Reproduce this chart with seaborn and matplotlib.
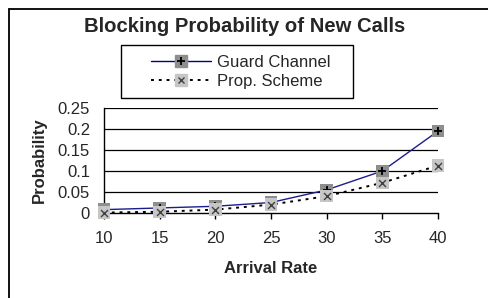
import matplotlib
matplotlib.use("Agg")
import matplotlib.pyplot as plt
from matplotlib.lines import Line2D
from matplotlib.patches import Rectangle
from matplotlib.legend_handler import HandlerTuple
import seaborn as sns
import pandas as pd

arrival_rate = [10, 15, 20, 25, 30, 35, 40]
guard_channel = [0.008, 0.012, 0.016, 0.025, 0.055, 0.100, 0.195]
prop_scheme = [0.001, 0.003, 0.008, 0.020, 0.040, 0.072, 0.113]
y_ticks = [0, 0.05, 0.1, 0.15, 0.2, 0.25]
y_tick_labels = ["0", "0.05", "0.1", "0.15", "0.2", "0.25"]

df = pd.DataFrame({"Arrival Rate": arrival_rate,
                   "Guard Channel": guard_channel,
                   "Prop. Scheme": prop_scheme})

sns.set_style("white")
plt.rcParams['font.family'] = ['Liberation Sans', 'DejaVu Sans']

W, H = 488, 298
fig = plt.figure(figsize=(W / 100, H / 100), dpi=100)
ax = fig.add_axes([104 / W, 1 - 213 / H, 334 / W, 105 / H])

guard_col = '#1c1c8c'
dots = (0, (1.5, 2.5))

# outer chart frame (runs off the right and bottom edges)
fig.add_artist(Line2D([8.5 / W, 1.0], [1 - 8.5 / H, 1 - 8.5 / H],
                      transform=fig.transFigure, color='black', lw=1.3))
fig.add_artist(Line2D([8.5 / W, 8.5 / W], [1 - 8.5 / H, 0.0],
                      transform=fig.transFigure, color='black', lw=1.3))

for y in y_ticks[1:]:
    ax.axhline(y, color='black', lw=0.9, zorder=0)

sns.lineplot(data=df, x="Arrival Rate", y="Guard Channel", ax=ax,
             color=guard_col, lw=1.0, zorder=2)
sns.lineplot(data=df, x="Arrival Rate", y="Prop. Scheme", ax=ax,
             color='black', lw=1.4, linestyle=dots, zorder=2)

sns.scatterplot(data=df, x="Arrival Rate", y="Guard Channel", ax=ax, marker='s',
                s=80, color='#8e8e8e', edgecolor='none', zorder=3, clip_on=False)
sns.scatterplot(data=df, x="Arrival Rate", y="Guard Channel", ax=ax, marker='+',
                s=30, color='black', linewidth=1.3, zorder=4, clip_on=False)
sns.scatterplot(data=df, x="Arrival Rate", y="Prop. Scheme", ax=ax, marker='s',
                s=80, color='#c6c6c6', edgecolor='none', zorder=5, clip_on=False)
sns.scatterplot(data=df, x="Arrival Rate", y="Prop. Scheme", ax=ax, marker='x',
                s=25, color='#404040', linewidth=1.0, zorder=6, clip_on=False)

ax.set_xlim(10, 40)
ax.set_ylim(0, 0.25)
ax.set_xticks(arrival_rate)
ax.set_yticks(y_ticks)
ax.set_yticklabels(y_tick_labels)
ax.tick_params(axis='x', direction='out', length=4, width=1, color='black',
               labelsize=12, pad=9)
ax.tick_params(axis='y', length=0, labelsize=12, pad=10)
ax.tick_params(bottom=True)

for side in ['top', 'right']:
    ax.spines[side].set_visible(False)
for side in ['left', 'bottom']:
    ax.spines[side].set_color('black')
    ax.spines[side].set_linewidth(1.0)

ax.set_xlabel("Arrival Rate", fontsize=12, fontweight='bold', labelpad=11)
ax.set_ylabel("Probability", fontsize=12, fontweight='bold', labelpad=8)

fig.text(245 / W, 1 - 26 / H, "Blocking Probability of New Calls", ha='center',
         va='center', fontsize=14.6, fontweight='bold')

# legend box drawn separately so the padding matches
fig.add_artist(Rectangle((121 / W, 1 - 98 / H), 232 / W, 53 / H,
                         transform=fig.transFigure, fill=False,
                         edgecolor='black', lw=1.0, zorder=5))

h1 = (Line2D([], [], color='#000080', lw=1.0),
      Line2D([], [], marker='s', ms=9, color='#8e8e8e', ls='none'),
      Line2D([], [], marker='+', ms=6, color='black', mew=1.3, ls='none'))
h2 = (Line2D([], [], color='black', lw=1.4, linestyle=dots),
      Line2D([], [], marker='s', ms=9, color='#c6c6c6', ls='none'),
      Line2D([], [], marker='x', ms=5, color='#404040', mew=1.0, ls='none'))
leg = fig.legend([h1, h2], ["Guard Channel", "Prop. Scheme"],
                 handler_map={tuple: HandlerTuple(ndivide=1, pad=0)},
                 loc='center left', bbox_to_anchor=(151 / W, 1 - 72 / H),
                 fontsize=12, frameon=False, handlelength=3.6, borderpad=0,
                 labelspacing=0.25, handletextpad=0.35, borderaxespad=0)

fig.savefig("out.png", dpi=100)
